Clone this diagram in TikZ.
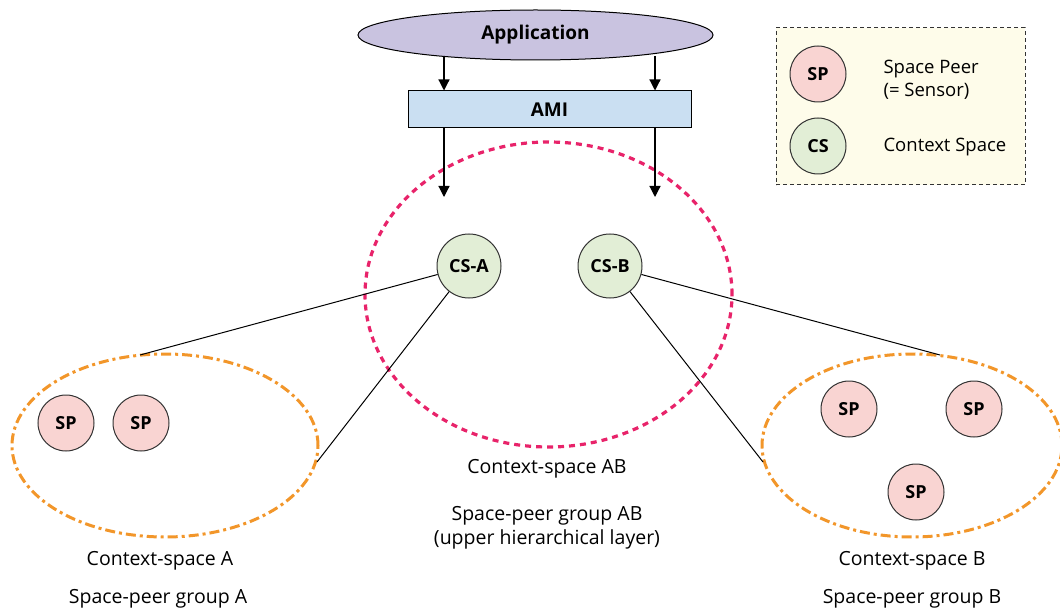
\documentclass[tikz,border=0pt]{standalone}
\usepackage{fontspec}
\setmainfont{Open Sans}
\usetikzlibrary{shapes.geometric,arrows.meta}
\definecolor{appfill}{HTML}{C9C3E0}
\definecolor{amifill}{HTML}{CADFF2}
\definecolor{legfill}{HTML}{FEFCEA}
\definecolor{spfill}{HTML}{F9D4D2}
\definecolor{csfill}{HTML}{E2EED6}
\definecolor{grpline}{HTML}{F2962A}
\definecolor{abline}{HTML}{E8236A}
\tikzset{
  lbl/.style={font=\fontsize{19.5}{23.5}\selectfont, align=center},
  sp/.style={circle, draw=black!80, line width=1pt, fill=spfill, minimum size=56pt, inner sep=0pt, font=\fontsize{18}{21}\selectfont\bfseries},
  cs/.style={circle, draw=black!80, line width=1pt, fill=csfill, minimum size=64pt, inner sep=0pt, font=\fontsize{18}{21}\selectfont\bfseries},
  grp/.style={ellipse, draw=grpline, line width=3pt, dash pattern=on 10pt off 4pt on 3pt off 4pt, inner sep=0pt},
  link/.style={draw=black, line width=1pt},
  flow/.style={draw=black, line width=1.2pt, -{Triangle[length=11pt,width=11pt]}},
}
\begin{document}
\begin{tikzpicture}[x=1pt,y=-1pt]
\useasboundingbox (0,0) rectangle (1060,612);

% application layer and middleware
\node[ellipse, draw=black, line width=1pt, fill=appfill, minimum width=355pt, minimum height=50pt, inner sep=0pt,
      font=\fontsize{19}{22}\selectfont\bfseries] (app) at (535.5,35) {Application};
\node[rectangle, draw=black, line width=1pt, fill=amifill, minimum width=283pt, minimum height=37pt, inner sep=0pt,
      font=\fontsize{19}{22}\selectfont\bfseries] (ami) at (549.5,109.5) {AMI};

% upper hierarchical layer
\node[ellipse, draw=abline, line width=3.2pt, dash pattern=on 6pt off 5pt, minimum width=367pt, minimum height=305pt, inner sep=0pt] (ab) at (548.5,294.5) {};

% context spaces
\node[cs] (csa) at (469,266) {CS-A};
\node[cs] (csb) at (610,266) {CS-B};

% space-peer groups
\node[grp, minimum width=306pt, minimum height=183pt] (ga) at (165,445.5) {};
\node[grp, minimum width=300pt, minimum height=183pt] (gb) at (912,445.5) {};

\node[sp] (spa1) at (66,423) {SP};
\node[sp] (spa2) at (141,423) {SP};
\node[sp] (spb1) at (849,409) {SP};
\node[sp] (spb2) at (974,409) {SP};
\node[sp] (spb3) at (916,492) {SP};

% attachment points on the group outlines
\coordinate (gaTop) at (140,355);
\coordinate (gaSide) at (317,462);
\coordinate (gbTop) at (940,355);
\coordinate (gbSide) at (763,462);

\draw[link] (csa) -- (gaTop);
\draw[link] (csa) -- (gaSide);
\draw[link] (csb) -- (gbTop);
\draw[link] (csb) -- (gbSide);

% downward flows
\coordinate (a1) at (444,56);
\coordinate (a2) at (655,56);
\coordinate (d1) at (444,197);
\coordinate (d2) at (655,197);
\draw[flow] (a1) -- (a1 |- ami.north);
\draw[flow] (a2) -- (a2 |- ami.north);
\draw[flow] (a1 |- ami.south) -- (d1);
\draw[flow] (a2 |- ami.south) -- (d2);

% labels
\node[lbl] (labAB) at (547,469) {Context-space AB};
\node[lbl] (labGAB) at (547,528) {Space-peer group AB\\(upper hierarchical layer)};
\node[lbl] (labA) at (160,561) {Context-space A};
\node[lbl] (labGA) at (158,599) {Space-peer group A};
\node[lbl] (labB) at (912,561) {Context-space B};
\node[lbl] (labGB) at (912,599) {Space-peer group B};

% legend
\node[rectangle, draw=black!80, line width=1pt, dash pattern=on 4pt off 3pt, fill=legfill, minimum width=249pt, minimum height=157pt, inner sep=0pt] (legend) at (900.5,106.5) {};
\node[sp] (legsp) at (818,74) {SP};
\node[cs, minimum size=56pt] (legcs) at (818,146) {CS};
\node[lbl, anchor=west, align=left, font=\fontsize{18.5}{23}\selectfont] (legsptext) at (880,79.5) {Space Peer\\(= Sensor)};
\node[lbl, anchor=west, font=\fontsize{18.5}{22}\selectfont] (legcstext) at (880,147) {Context Space};
\end{tikzpicture}
\end{document}
